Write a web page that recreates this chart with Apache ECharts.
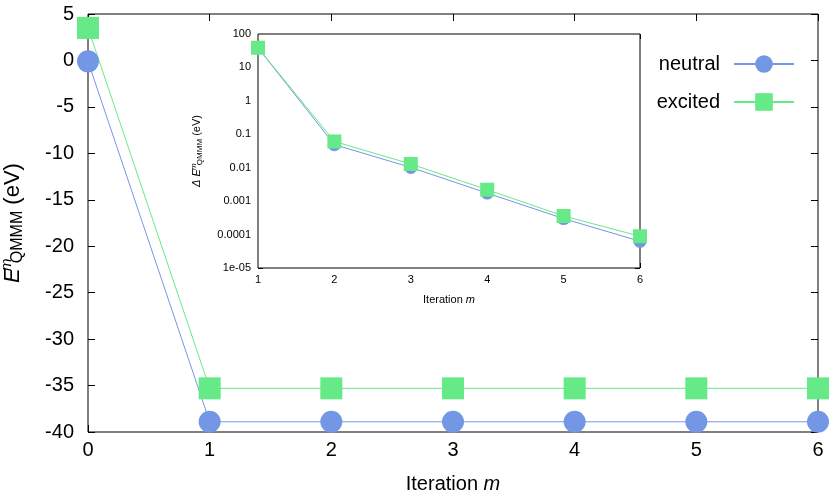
<!DOCTYPE html>
<html>
<head>
<meta charset="utf-8">
<script src="https://cdn.jsdelivr.net/npm/echarts@6/dist/echarts.min.js"></script>
<style>
  html, body { margin: 0; padding: 0; background: #fff; }
  #chart { width: 830px; height: 495px; }
</style>
</head>
<body>
<div id="chart"></div>
<script>
// main panel: energy per iteration
var iterations = [0, 1, 2, 3, 4, 5, 6];
var neutralE = [-0.1, -38.9, -38.9, -38.9, -38.9, -38.9, -38.9];
var excitedE = [3.5, -35.3, -35.3, -35.3, -35.3, -35.3, -35.3];
// inset: change between iterations (log scale)
var insetIter = [1, 2, 3, 4, 5, 6];
var neutralDelta = [38.5, 0.049, 0.0102, 0.00174, 0.0003, 0.000063];
var excitedDelta = [38.8, 0.061, 0.0129, 0.0022, 0.00036, 0.000089];
var insetTickLabels = { '-5': '1e-05', '-4': '0.0001', '-3': '0.001', '-2': '0.01', '-1': '0.1', '0': '1', '1': '10', '2': '100' };

var blue = '#7397e5';
var green = '#66e987';
var font = 'Liberation Sans, Arial, sans-serif';

function pairs(xs, ys) {
    var out = [];
    for (var i = 0; i < xs.length; i++) out.push([xs[i], ys[i]]);
    return out;
}

var chart = echarts.init(document.getElementById('chart'));

var tickIn = { show: true, inside: true, length: 7, lineStyle: { color: '#000', width: 1 } };
var tickInSmall = { show: true, inside: true, length: 5, lineStyle: { color: '#000', width: 1 } };
var noLine = { show: false, onZero: false };

var option = {
    animation: false,
    textStyle: { fontFamily: font },
    grid: [
        { left: 88, top: 14, width: 730, height: 418, outerBoundsMode: 'none', containLabel: false, show: true, borderColor: '#000', borderWidth: 1, backgroundColor: 'transparent' },
        { left: 258, top: 34, width: 382, height: 234, outerBoundsMode: 'none', containLabel: false, show: true, borderColor: '#000', borderWidth: 1, backgroundColor: '#fff', z: 5 }
    ],
    legend: {
        data: ['neutral', 'excited'],
        orient: 'vertical',
        right: 30,
        top: 49,
        align: 'right',
        itemWidth: 60,
        itemHeight: 22,
        itemGap: 18,
        textStyle: { fontSize: 20, color: '#000', fontFamily: font, padding: [0, 9, 0, 0] }
    },
    xAxis: [
        {
            gridIndex: 0, type: 'value', min: 0, max: 6, interval: 1,
            axisLine: noLine, axisTick: tickIn, splitLine: { show: false },
            axisLabel: { fontSize: 20, color: '#000', margin: 8 },
            name: '{t|Iteration }{i|m}', nameLocation: 'middle', nameGap: 42,
            nameTextStyle: { rich: { t: { fontSize: 20, color: '#000' }, i: { fontSize: 20, fontStyle: 'italic', color: '#000' } } }
        },
        {
            gridIndex: 0, type: 'value', min: 0, max: 6, interval: 1, position: 'top',
            axisLine: noLine, axisTick: tickIn, axisLabel: { show: false }, splitLine: { show: false }
        },
        {
            gridIndex: 1, type: 'value', min: 1, max: 6, interval: 1,
            axisLine: noLine, axisTick: tickInSmall, splitLine: { show: false },
            axisLabel: { fontSize: 11, color: '#000', margin: 6 },
            name: '{t|Iteration }{i|m}', nameLocation: 'middle', nameGap: 26,
            nameTextStyle: { rich: { t: { fontSize: 11, color: '#000' }, i: { fontSize: 11, fontStyle: 'italic', color: '#000' } } }
        },
        {
            gridIndex: 1, type: 'value', min: 1, max: 6, interval: 1, position: 'top',
            axisLine: noLine, axisTick: tickInSmall, axisLabel: { show: false }, splitLine: { show: false }
        }
    ],
    yAxis: [
        {
            gridIndex: 0, type: 'value', min: -40, max: 5, interval: 5,
            axisLine: noLine, axisTick: tickIn, splitLine: { show: false },
            axisLabel: { fontSize: 20, color: '#000', margin: 14 },
            name: '{e|E}{sup|m}{sub|QMMM}{t| (eV)}', nameLocation: 'middle', nameGap: 62,
            nameTextStyle: {
                rich: {
                    e: { fontSize: 22, fontStyle: 'italic', color: '#000' },
                    sup: { fontSize: 15, fontStyle: 'italic', color: '#000', padding: [0, 0, 12, 3], width: 1, align: 'left' },
                    sub: { fontSize: 16, color: '#000', padding: [10, 0, 0, 1] },
                    t: { fontSize: 22, color: '#000' }
                }
            }
        },
        {
            gridIndex: 0, type: 'value', min: -40, max: 5, interval: 5, position: 'right',
            axisLine: noLine, axisTick: tickIn, axisLabel: { show: false }, splitLine: { show: false }
        },
        {
            gridIndex: 1, type: 'log', logBase: 10, min: 1e-5, max: 100,
            axisLine: noLine, axisTick: tickInSmall, splitLine: { show: false },
            axisLabel: {
                fontSize: 11, color: '#000', margin: 7,
                formatter: function (v) {
                    var k = Math.round(Math.log(v) / Math.LN10);
                    return insetTickLabels[String(k)] || '';
                }
            },
            name: '{e|\u0394 E}{sup|m}{sub|QMMM}{t| (eV)}', nameLocation: 'middle', nameGap: 54,
            nameTextStyle: {
                rich: {
                    e: { fontSize: 11, fontStyle: 'italic', color: '#000' },
                    sup: { fontSize: 8, fontStyle: 'italic', color: '#000', padding: [0, 0, 6, 2], width: 1, align: 'left' },
                    sub: { fontSize: 8, color: '#000', padding: [5, 0, 0, 1] },
                    t: { fontSize: 11, color: '#000' }
                }
            }
        },
        {
            gridIndex: 1, type: 'log', logBase: 10, min: 1e-5, max: 100, position: 'right',
            axisLine: noLine, axisTick: tickInSmall, axisLabel: { show: false }, splitLine: { show: false }
        }
    ],
    series: [
        {
            name: 'neutral', type: 'line', xAxisIndex: 0, yAxisIndex: 0,
            data: pairs(iterations, neutralE),
            symbol: 'circle', symbolSize: 22, clip: false,
            lineStyle: { color: blue, width: 1 }, itemStyle: { color: blue }, z: 3
        },
        {
            name: 'excited', type: 'line', xAxisIndex: 0, yAxisIndex: 0,
            data: pairs(iterations, excitedE),
            symbol: 'rect', symbolSize: 22, clip: false,
            lineStyle: { color: green, width: 1 }, itemStyle: { color: green }, z: 3
        },
        {
            name: 'neutral delta', type: 'line', xAxisIndex: 2, yAxisIndex: 2,
            data: pairs(insetIter, neutralDelta),
            symbol: 'circle', symbolSize: 13, clip: false,
            lineStyle: { color: blue, width: 1 }, itemStyle: { color: blue }, z: 10
        },
        {
            name: 'excited delta', type: 'line', xAxisIndex: 2, yAxisIndex: 2,
            data: pairs(insetIter, excitedDelta),
            symbol: 'rect', symbolSize: 14, clip: false,
            lineStyle: { color: green, width: 1 }, itemStyle: { color: green }, z: 10
        }
    ]
};

chart.setOption(option);
</script>
</body>
</html>
